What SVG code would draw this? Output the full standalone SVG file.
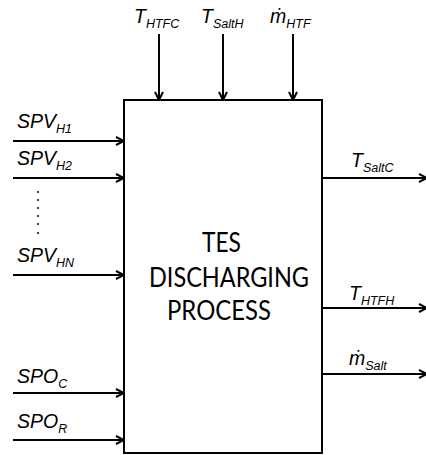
<svg xmlns="http://www.w3.org/2000/svg" width="426" height="455" viewBox="0 0 426 455">
<defs>
<marker id="ah" viewBox="0 0 10 10" refX="9" refY="5" markerWidth="10" markerHeight="10" markerUnits="userSpaceOnUse" orient="auto">
<polyline points="1,1 9,5 1,9" fill="none" stroke="#000" stroke-width="2"/>
</marker>
<style>
.ln{stroke:#000;stroke-width:2;fill:none;marker-end:url(#ah)}
.lb{font-family:"Liberation Sans",Arial,sans-serif;font-style:italic;font-size:19.5px;fill:#000}
.sb{font-size:12.5px}
.ct{font-family:Lato,"Open Sans",sans-serif;font-size:26px;fill:#000;text-anchor:middle}
</style>
</defs>
<rect width="426" height="455" fill="#fff"/>
<g id="process">
<rect x="124" y="100" width="198" height="353" fill="#fff" stroke="#000" stroke-width="2"/>
<text class="ct" x="221.5" y="252" textLength="39" lengthAdjust="spacingAndGlyphs">TES</text>
<text class="ct" x="229" y="287" textLength="160" lengthAdjust="spacingAndGlyphs">DISCHARGING</text>
<text class="ct" x="219" y="320" textLength="104" lengthAdjust="spacingAndGlyphs">PROCESS</text>
</g>
<g id="connectors">
<line class="ln" x1="13" y1="141" x2="124" y2="141"/>
<line class="ln" x1="13" y1="178" x2="124" y2="178"/>
<line class="ln" x1="13" y1="275" x2="124" y2="275"/>
<line class="ln" x1="13" y1="393" x2="124" y2="393"/>
<line class="ln" x1="13" y1="440" x2="124" y2="440"/>
<line class="ln" x1="159" y1="34" x2="159" y2="100"/>
<line class="ln" x1="223" y1="34" x2="223" y2="100"/>
<line class="ln" x1="293" y1="34" x2="293" y2="100"/>
<line class="ln" x1="322" y1="178" x2="427" y2="178"/>
<line class="ln" x1="322" y1="308" x2="427" y2="308"/>
<line class="ln" x1="322" y1="374" x2="427" y2="374"/>
</g>
<g id="dots" fill="#000">
<circle cx="38" cy="192" r="1"/>
<circle cx="38" cy="200" r="1"/>
<circle cx="38" cy="208" r="1"/>
<circle cx="38" cy="216" r="1"/>
<circle cx="38" cy="224" r="1"/>
<circle cx="38" cy="233" r="1"/>
</g>
<g id="labels">
<text class="lb" x="17" y="128">SPV<tspan class="sb" dy="5">H1</tspan></text>
<text class="lb" x="17" y="165">SPV<tspan class="sb" dy="5">H2</tspan></text>
<text class="lb" x="17" y="262">SPV<tspan class="sb" dy="5">HN</tspan></text>
<text class="lb" x="17" y="383">SPO<tspan class="sb" dy="5">C</tspan></text>
<text class="lb" x="17" y="428">SPO<tspan class="sb" dy="5">R</tspan></text>
<text class="lb" x="134" y="23">T<tspan class="sb" dy="5">HTFC</tspan></text>
<text class="lb" x="201" y="23">T<tspan class="sb" dy="5">SaltH</tspan></text>
<text class="lb" x="270" y="23">ṁ<tspan class="sb" dy="5">HTF</tspan></text>
<text class="lb" x="351" y="167">T<tspan class="sb" dy="5">SaltC</tspan></text>
<text class="lb" x="349" y="300">T<tspan class="sb" dy="5">HTFH</tspan></text>
<text class="lb" x="349" y="365">ṁ<tspan class="sb" dy="5">Salt</tspan></text>
</g>
</svg>
